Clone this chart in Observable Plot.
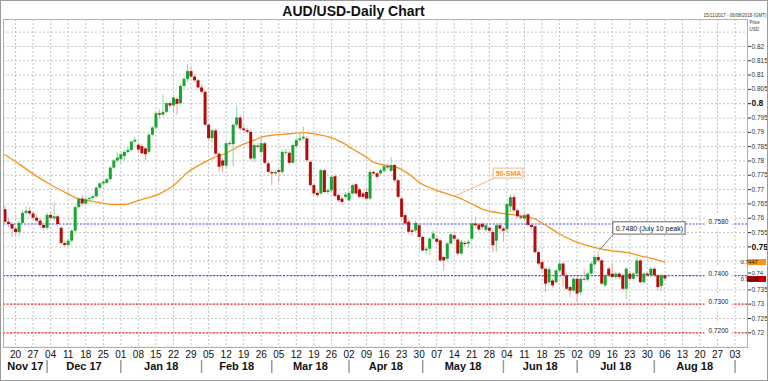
<!DOCTYPE html>
<html>
<head>
<meta charset="utf-8">
<script src="https://cdn.jsdelivr.net/npm/d3@7"></script>
<script src="https://cdn.jsdelivr.net/npm/@observablehq/plot@0.6"></script>
<style>
  html, body { margin: 0; padding: 0; background: #fff; }
  #wrap { position: relative; width: 768px; height: 381px; overflow: hidden; }
  #border { position: absolute; left: 0; top: 0; width: 768px; height: 381px; box-sizing: border-box; border: 1px solid #9a9a9a; pointer-events: none; }
</style>
</head>
<body>
<div id="wrap"><div id="chart"></div><div id="border"></div></div>
<script>
// ---- Data: AUD/USD daily candles, trading days from 15 Nov 2017 (index 0) to 06 Aug 2018 (index 188)
const open = [
.7630,.7586,.7578,.7562,.7550,.7582,.7617,.7624,.7615,.7600,.7590,.7575,.7565,.7610,.7598,.7605,.7565,.7512,.7505,.7520,
.7555,.7637,.7667,.7650,.7665,.7669,.7675,.7705,.7720,.7722,.7735,.7775,.7800,.7805,.7815,.7830,.7837,.7866,.7855,.7850,
.7842,.7830,.7890,.7915,.7965,.7960,.7970,.8000,.7992,.8015,.8000,.8060,.8085,.8112,.8093,.8080,.8055,.8040,.7925,.7878,
.7905,.7824,.7800,.7782,.7860,.7857,.7925,.7950,.7912,.7906,.7900,.7807,.7852,.7830,.7860,.7790,.7760,.7755,.7766,.7760,
.7827,.7827,.7792,.7850,.7871,.7877,.7877,.7795,.7714,.7687,.7685,.7766,.7690,.7696,.7745,.7679,.7667,.7673,.7661,.7685,
.7717,.7699,.7685,.7690,.7667,.7760,.7755,.7755,.7764,.7780,.7764,.7784,.7731,.7667,.7609,.7586,.7556,.7556,.7574,.7533,
.7486,.7492,.7527,.7527,.7521,.7463,.7457,.7510,.7539,.7524,.7475,.7512,.7510,.7527,.7580,.7576,.7579,.7558,.7565,.7550,
.7520,.7574,.7562,.7560,.7640,.7672,.7626,.7605,.7597,.7612,.7575,.7570,.7480,.7445,.7422,.7375,.7381,.7375,.7416,.7440,
.7399,.7358,.7346,.7387,.7340,.7387,.7384,.7405,.7437,.7463,.7451,.7364,.7422,.7405,.7393,.7405,.7399,.7352,.7405,.7387,
.7405,.7451,.7375,.7405,.7399,.7422,.7399,.7362,.7399];
const high = [
.7642,.7598,.7585,.7570,.7590,.7625,.7640,.7638,.7622,.7610,.7598,.7582,.7618,.7622,.7652,.7612,.7570,.7520,.7528,.7560,
.7642,.7672,.7680,.7672,.7672,.7680,.7710,.7725,.7730,.7740,.7780,.7805,.7828,.7825,.7836,.7848,.7870,.7882,.7862,.7858,
.7848,.7895,.7920,.7970,.7978,.8030,.8005,.8008,.8025,.8022,.8068,.8092,.8136,.8130,.8100,.8085,.8065,.8045,.7930,.7910,
.7912,.7828,.7808,.7865,.7868,.7930,.7990,.7960,.7922,.7915,.7905,.7860,.7862,.7883,.7866,.7795,.7765,.7768,.7772,.7836,
.7840,.7832,.7858,.7878,.7895,.7918,.7885,.7800,.7720,.7695,.7772,.7770,.7705,.7750,.7752,.7685,.7672,.7690,.7692,.7720,
.7722,.7705,.7692,.7702,.7768,.7768,.7760,.7772,.7790,.7788,.7813,.7790,.7736,.7672,.7615,.7592,.7562,.7590,.7580,.7538,
.7500,.7533,.7555,.7535,.7526,.7468,.7515,.7548,.7548,.7530,.7522,.7520,.7522,.7586,.7603,.7582,.7585,.7580,.7570,.7556,
.7580,.7582,.7570,.7652,.7680,.7680,.7632,.7612,.7615,.7615,.7580,.7575,.7485,.7450,.7425,.7428,.7388,.7422,.7448,.7445,
.7405,.7362,.7392,.7393,.7392,.7422,.7412,.7446,.7470,.7483,.7456,.7405,.7428,.7440,.7412,.7410,.7405,.7428,.7412,.7410,
.7463,.7456,.7410,.7412,.7428,.7428,.7405,.7405,.7403];
const low = [
.7580,.7568,.7533,.7540,.7535,.7575,.7610,.7608,.7595,.7585,.7565,.7555,.7558,.7595,.7590,.7570,.7505,.7498,.7500,.7512,
.7550,.7630,.7640,.7645,.7660,.7662,.7670,.7700,.7712,.7718,.7730,.7770,.7795,.7790,.7800,.7825,.7832,.7860,.7828,.7820,
.7800,.7825,.7885,.7910,.7945,.7955,.7962,.7985,.7965,.7960,.7995,.8050,.8075,.8088,.8075,.8050,.8035,.7920,.7870,.7862,
.7818,.7760,.7757,.7775,.7850,.7780,.7918,.7905,.7898,.7892,.7800,.7795,.7840,.7825,.7788,.7755,.7714,.7748,.7725,.7752,
.7818,.7785,.7788,.7845,.7865,.7870,.7795,.7708,.7678,.7672,.7680,.7685,.7682,.7690,.7672,.7655,.7644,.7665,.7655,.7680,
.7680,.7668,.7665,.7660,.7662,.7748,.7735,.7750,.7758,.7770,.7760,.7725,.7668,.7598,.7575,.7545,.7538,.7548,.7528,.7480,
.7472,.7470,.7520,.7510,.7446,.7416,.7450,.7505,.7520,.7468,.7470,.7500,.7495,.7520,.7565,.7552,.7560,.7550,.7548,.7480,
.7482,.7555,.7515,.7552,.7620,.7620,.7600,.7592,.7590,.7570,.7560,.7475,.7435,.7415,.7340,.7368,.7358,.7370,.7410,.7358,
.7348,.7323,.7340,.7305,.7332,.7378,.7378,.7398,.7430,.7445,.7365,.7358,.7392,.7388,.7385,.7385,.7346,.7317,.7380,.7380,
.7400,.7370,.7368,.7392,.7392,.7392,.7346,.7346,.7380];
const close = [
.7586,.7578,.7562,.7550,.7582,.7617,.7624,.7615,.7600,.7590,.7575,.7565,.7610,.7600,.7605,.7578,.7512,.7505,.7520,.7555,
.7637,.7667,.7650,.7665,.7669,.7675,.7705,.7720,.7726,.7735,.7775,.7800,.7810,.7822,.7830,.7837,.7866,.7872,.7838,.7825,
.7822,.7890,.7915,.7965,.7960,.7970,.8000,.7992,.8020,.7998,.8060,.8085,.8112,.8093,.8080,.8055,.8040,.7925,.7878,.7905,
.7824,.7778,.7782,.7860,.7857,.7925,.7950,.7912,.7906,.7900,.7807,.7854,.7848,.7860,.7792,.7760,.7755,.7760,.7760,.7830,
.7830,.7792,.7854,.7871,.7877,.7883,.7801,.7714,.7685,.7679,.7766,.7690,.7696,.7743,.7676,.7661,.7655,.7681,.7687,.7714,
.7685,.7673,.7673,.7667,.7760,.7755,.7743,.7766,.7780,.7776,.7784,.7731,.7673,.7603,.7580,.7551,.7551,.7582,.7533,.7486,
.7492,.7527,.7545,.7516,.7451,.7451,.7510,.7542,.7527,.7475,.7516,.7508,.7516,.7580,.7574,.7559,.7568,.7574,.7555,.7504,
.7574,.7562,.7555,.7648,.7672,.7626,.7605,.7600,.7609,.7575,.7568,.7480,.7440,.7422,.7370,.7420,.7364,.7416,.7440,.7399,
.7352,.7346,.7387,.7335,.7387,.7384,.7405,.7440,.7463,.7451,.7370,.7399,.7399,.7393,.7405,.7393,.7352,.7422,.7387,.7405,
.7451,.7375,.7405,.7399,.7422,.7399,.7358,.7399,.7388];

// 50-day simple moving average (trading-day index, value)
const smaIdx = [0,4,8,13,18,21,25,28,31,34,37,40,44,48,52,56,59,63,67,71,73,77,81,85,88,92,96,99,103,105,109,112,115,118,122,126,129,133,136,141,147,151,155,158,162,166,170,173,177,181,185,188];
const smaVal = [.7822,.7790,.7755,.7717,.7685,.7667,.7659,.7652,.7648,.7648,.7658,.7669,.7685,.7714,.7760,.7790,.7809,.7827,.7854,.7873,.7883,.7891,.7895,.7899,.7895,.7885,.7865,.7842,.7813,.7795,.7784,.7776,.7755,.7725,.7702,.7685,.7673,.7650,.7632,.7618,.7609,.7597,.7568,.7545,.7521,.7504,.7492,.7486,.7481,.7469,.7457,.7447];

// Horizontal levels
const levelVals = [0.7580, 0.7400, 0.7300, 0.7200];
const levelLabels = ["0.7580", "0.7400", "0.7300", "0.7200"];
const levelColors = ["#4a4aff", "#4a4aff", "#ff2b2b", "#ff2b2b"];

// Price tags on the right axis
const tagVals = [0.7447, 0.7388];
const tagLabels = ["0.7447", "0.7388"];
const tagColors = ["#f7941d", "#c00000"];

// Axis ticks
const weekLabels = ["20","27","04","11","18","25","01","08","15","22","29","05","12","19","26","05","12","19","26","02","09","16","23","30","07","14","21","28","04","11","18","25","02","09","16","23","30","06","13","20","27","03"];
const firstMondayIdx = 3; // 20 Nov 2017
const monthLabels = ["Nov 17","Dec 17","Jan 18","Feb 18","Mar 18","Apr 18","May 18","Jun 18","Jul 18","Aug 18"];
const monthStartIdx = [-0.43, 12, 33, 56, 76, 98, 119, 142, 163, 185, 208];
const yLabelTicks = [0.72,0.725,0.73,0.735,0.755,0.76,0.765,0.77,0.775,0.78,0.785,0.79,0.795,0.805,0.81,0.815,0.82];
const yLabelTickNearTag = [0.74];
const yBoldTicks = [0.75, 0.8];
const yGridTicks = [0.715,0.72,0.725,0.73,0.735,0.74,0.745,0.75,0.755,0.76,0.765,0.77,0.775,0.78,0.785,0.79,0.795,0.8,0.805,0.81,0.815,0.82,0.825];

// Annotations (anchored in data units)
const smaNote = {text: "50-SMA", x1: 139.2, x2: 147.7, y1: 0.77385, y2: 0.77734, px: 128.3, py: 0.7679};
const peakNote = {text: "0.7480 (July 10 peak)", x1: 173.3, x2: 193.9, y1: 0.7543, y2: 0.7586, px: 169.4, py: 0.7490};

// ---- Build tables
const candles = close.map((c, i) => ({i, o: open[i], h: high[i], l: low[i], c, up: c >= open[i]}));
const sma = smaIdx.map((x, k) => ({x, y: smaVal[k]}));
const levels = levelVals.map((v, k) => ({v, label: levelLabels[k], color: levelColors[k]}));
const tags = tagVals.map((v, k) => ({v, label: tagLabels[k], color: tagColors[k]}));
const weekIdx = weekLabels.map((_, k) => firstMondayIdx + 5 * k);
const weekLabelMap = new Map(weekIdx.map((x, k) => [x, weekLabels[k]]));
const months = monthLabels.map((label, k) => ({label, mid: (monthStartIdx[k] + monthStartIdx[k + 1]) / 2}));
const separators = monthStartIdx.slice(1);
const fmt = d => String(+d.toFixed(3));

const UP = "#19a532", DOWN = "#b30d0d", UPW = "#8fd69c", DOWNW = "#f2a0a0";
const grid = {stroke: "#c4c4c4", strokeOpacity: 1, strokeDasharray: "2,2"};

const chart = Plot.plot({
  width: 768,
  height: 381,
  marginTop: 19,
  marginBottom: 34,
  marginLeft: 3,
  marginRight: 21,
  style: {fontFamily: "'Liberation Sans', Arial, sans-serif", background: "#fff", overflow: "visible"},
  x: {type: "linear", domain: [-0.43, 211.54], axis: null},
  y: {type: "linear", domain: [0.71487, 0.8294], axis: null},
  marks: [
    Plot.gridY(yGridTicks, grid),
    Plot.gridX(weekIdx, grid),
    Plot.ruleY(levels, {y: "v", stroke: "color", strokeWidth: 1.2, strokeDasharray: "2,1.5"}),
    Plot.text(levels, {y: "v", text: "label", frameAnchor: "right", dx: -29, dy: -2, fontSize: 6.5, fill: "#222", stroke: "#fff", strokeWidth: 9, textAnchor: "middle"}),
    Plot.line(sma, {x: "x", y: "y", stroke: "#f7941d", strokeWidth: 1.3, curve: "monotone-x"}),
    Plot.ruleX(candles, {x: "i", y1: "l", y2: "h", stroke: d => d.up ? UPW : DOWNW, strokeWidth: 1}),
    Plot.ruleX(candles, {x: "i", y1: "o", y2: "c", stroke: d => d.up ? UP : DOWN, strokeWidth: 3}),
    // 50-SMA annotation
    Plot.link([smaNote], {x1: "x1", y1: "y1", x2: "px", y2: "py", stroke: "#fbb67a", strokeWidth: 1}),
    Plot.rect([smaNote], {x1: "x1", x2: "x2", y1: "y1", y2: "y2", fill: "#fff", stroke: "#fbb67a"}),
    Plot.text([smaNote], {x: d => (d.x1 + d.x2) / 2, y: d => (d.y1 + d.y2) / 2, text: "text", fill: "#f7941d", fontWeight: "bold", fontSize: 7}),
    // July 10 peak annotation
    Plot.link([peakNote], {x1: "x1", y1: "y1", x2: "px", y2: "py", stroke: "#777", strokeWidth: 1}),
    Plot.rect([peakNote], {x1: "x1", x2: "x2", y1: "y1", y2: "y2", fill: "#fff", stroke: "#666"}),
    Plot.text([peakNote], {x: d => (d.x1 + d.x2) / 2, y: d => (d.y1 + d.y2) / 2, text: "text", fill: "#111", fontSize: 7}),
    Plot.frame({stroke: "#b0b0b0"}),
    // right axis
    Plot.axisY(yLabelTicks, {anchor: "right", tickSize: 3, tickPadding: 1, fontSize: 6.5, tickFormat: fmt, color: "#333", label: null}),
    Plot.axisY(yLabelTickNearTag, {anchor: "right", tickSize: 3, tickPadding: 1, fontSize: 6, dy: -2.5, tickFormat: fmt, color: "#333", label: null}),
    Plot.axisY(yBoldTicks, {anchor: "right", tickSize: 3, tickPadding: 1, fontSize: 8.5, fontWeight: "bold", tickFormat: fmt, color: "#111", label: null}),
    Plot.ruleY(tags, {y: "v", stroke: "color", strokeWidth: 6, insetLeft: 744, insetRight: -19}),
    Plot.text(tags, {y: "v", text: "label", frameAnchor: "right", dx: 10, fontSize: 5.5, fill: "#111"}),
    // bottom axis
    Plot.axisX(weekIdx, {anchor: "bottom", tickSize: 0, tickPadding: 3, fontSize: 10, tickFormat: d => weekLabelMap.get(d), color: "#111", label: null}),
    Plot.ruleX(separators, {x: d => d, stroke: "#9a9a9a", strokeWidth: 1.5, insetTop: 341, insetBottom: -26}),
    Plot.text(months, {x: "mid", text: "label", frameAnchor: "bottom", lineAnchor: "middle", dy: 19, fontSize: 11, fontWeight: "bold", fill: "#111"}),
    // titles
    Plot.text(["AUD/USD-Daily Chart"], {frameAnchor: "top", lineAnchor: "middle", dx: -22, dy: -8, fontSize: 14, fontWeight: "bold", fill: "#111"}),
    Plot.text(["15/11/2017 - 06/08/2018 (GMT)"], {frameAnchor: "top-right", lineAnchor: "middle", textAnchor: "end", dx: 19, dy: -4, fontSize: 4.5, fill: "#333"}),
    Plot.text(["Price"], {frameAnchor: "top-right", lineAnchor: "middle", textAnchor: "start", dx: 2, dy: 3, fontSize: 4.5, fill: "#333"}),
    Plot.text(["USD"], {frameAnchor: "top-right", lineAnchor: "middle", textAnchor: "start", dx: 2, dy: 10, fontSize: 4.5, fill: "#333"})
  ]
});
document.getElementById("chart").appendChild(chart);
</script>
</body>
</html>
